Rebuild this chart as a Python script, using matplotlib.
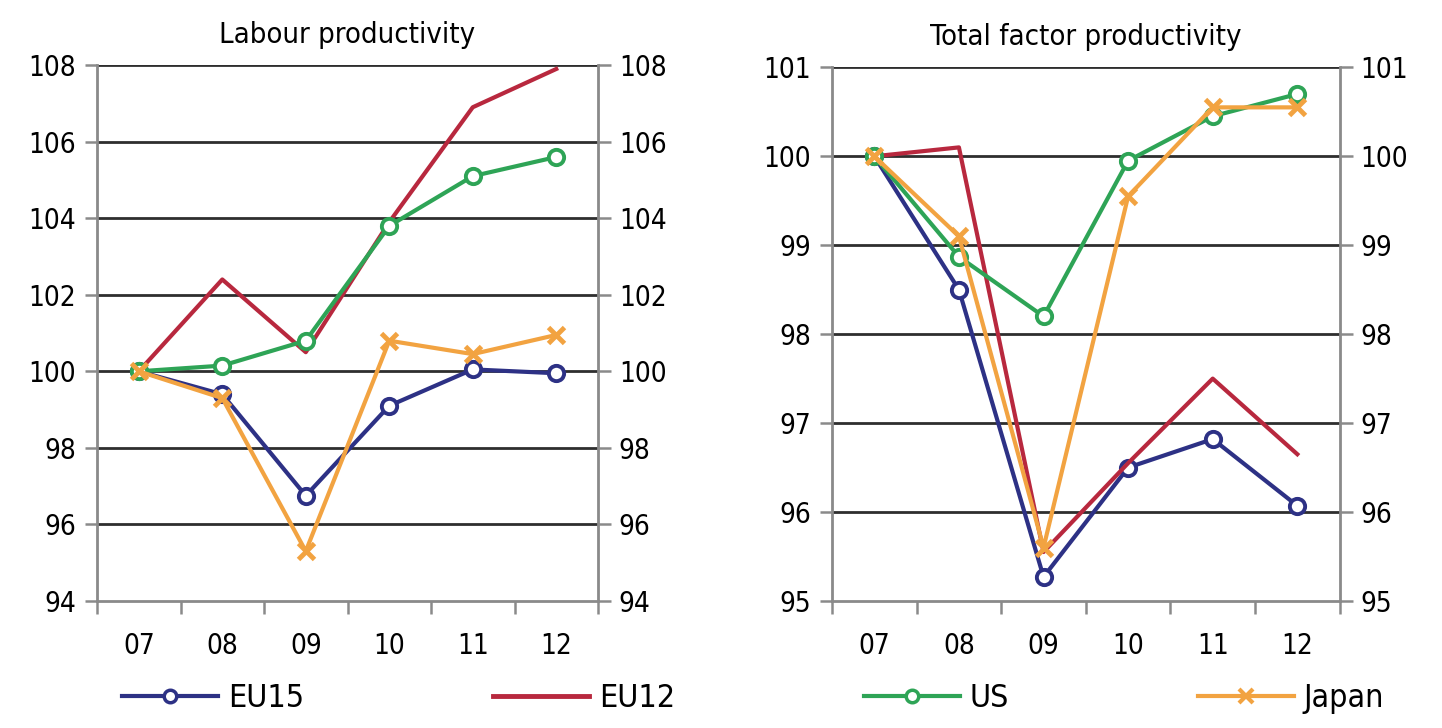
import matplotlib
matplotlib.use("Agg")
from matplotlib import pyplot as plt
from matplotlib.lines import Line2D

plt.rcParams['font.family'] = ['DejaVu Sans']
plt.rcParams['font.stretch'] = 'condensed'

years = ['07', '08', '09', '10', '11', '12']

# Labour productivity
lab_eu15 = [100.0, 99.4, 96.75, 99.1, 100.05, 99.95]
lab_eu12 = [100.0, 102.4, 100.5, 103.9, 106.9, 107.9]
lab_us = [100.0, 100.15, 100.8, 103.8, 105.1, 105.6]
lab_japan = [100.0, 99.3, 95.3, 100.8, 100.45, 100.95]

# Total factor productivity
tfp_eu15 = [100.0, 98.5, 95.27, 96.5, 96.82, 96.07]
tfp_eu12 = [100.0, 100.1, 95.55, 96.55, 97.5, 96.65]
tfp_us = [100.0, 98.87, 98.2, 99.95, 100.45, 100.7]
tfp_japan = [100.0, 99.1, 95.6, 99.55, 100.55, 100.55]

c_eu15 = '#2d3185'
c_eu12 = '#b8283e'
c_us = '#2ea456'
c_japan = '#f2a341'
grid_c = '#2e2e2e'
spine_c = '#8a8a8a'


def draw(ax, eu15, eu12, us, japan, lo, hi, step, title):
    x = list(range(len(years)))
    ax.plot(x, eu15, '-o', color=c_eu15, lw=3, ms=11, mfc='white', mew=2.8, zorder=3)
    ax.plot(x, eu12, '-', color=c_eu12, lw=3, zorder=3)
    ax.plot(x, us, '-o', color=c_us, lw=3, ms=11, mfc='white', mew=2.8, zorder=3)
    ax.plot(x, japan, '-x', color=c_japan, lw=3, ms=11, mew=3.5, zorder=4)
    ax.set_xlim(-0.5, len(years) - 0.5)
    ax.set_ylim(lo, hi)
    yt = list(range(lo, hi + 1, step))
    ax.set_yticks(yt)
    for v in yt[1:]:
        ax.axhline(v, color=grid_c, lw=2, zorder=1)
    ax.set_xticks([i - 0.5 for i in range(len(years) + 1)])
    ax.set_xticklabels([])
    ax.set_xticks(x, minor=True)
    ax.set_xticklabels(years, minor=True)
    ax.tick_params(axis='x', which='minor', length=0, pad=22, labelsize=20)
    ax.tick_params(axis='x', which='major', length=9, width=1.8, color=spine_c)
    ax.tick_params(axis='y', length=9, width=1.8, color=spine_c, labelsize=20,
                   right=True, labelright=True, direction='out', pad=6)
    for s in ['left', 'right', 'bottom']:
        ax.spines[s].set_color(spine_c)
        ax.spines[s].set_linewidth(2)
    ax.spines['top'].set_visible(False)
    ax.set_title(title, fontsize=21, pad=16)


fig = plt.figure(figsize=(14.42, 7.28), dpi=100)
ax1 = fig.add_axes([0.0673, 0.1745, 0.3474, 0.736])
ax2 = fig.add_axes([0.577, 0.1745, 0.352, 0.733])

draw(ax1, lab_eu15, lab_eu12, lab_us, lab_japan, 94, 108, 2, 'Labour productivity')
draw(ax2, tfp_eu15, tfp_eu12, tfp_us, tfp_japan, 95, 101, 1, 'Total factor productivity')

handles = [
    Line2D([], [], color=c_eu15, lw=3, marker='o', ms=9, mfc='white', mew=2.5),
    Line2D([], [], color=c_eu12, lw=3.5),
    Line2D([], [], color=c_us, lw=3, marker='o', ms=9, mfc='white', mew=2.5),
    Line2D([], [], color=c_japan, lw=3, marker='x', ms=10, mew=3),
]
labels = ['EU15', 'EU12', 'US', 'Japan']
fig.legend(handles, labels, loc='lower left', ncol=4, mode='expand',
           bbox_to_anchor=(0.065, -0.02, 0.915, 0.07), frameon=False,
           fontsize=23, handlelength=3.0, handletextpad=0.3)

fig.savefig('out.png', dpi=100)
